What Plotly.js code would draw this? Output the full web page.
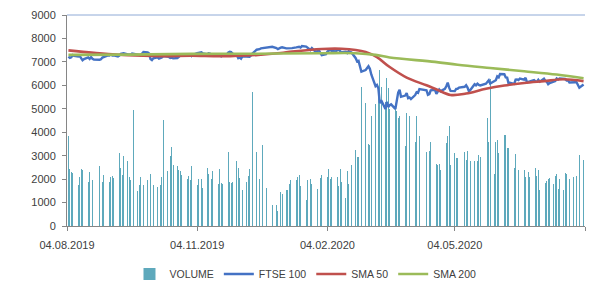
<!DOCTYPE html>
<html>
<head>
<meta charset="utf-8">
<script src="https://cdn.plot.ly/plotly-3.0.1.min.js"></script>
<style>
  html, body { margin: 0; padding: 0; background: #ffffff; }
  #chart { width: 599px; height: 284px; }
</style>
</head>
<body>
<div id="chart"></div>
<script>
// ---- Calendar: London trading days shown on the chart ----
const firstDay = "2019-08-05";
const lastDay = "2020-08-03";
const holidays = ["2019-08-26", "2019-12-25", "2019-12-26", "2020-01-01",
                  "2020-04-10", "2020-04-13", "2020-05-08", "2020-05-25"];

// ---- FTSE 100 close, one value per trading day (grouped by week) ----
const ftse = [
  7223, 7171, 7199, 7286, 7254,
  7226, 7251, 7147, 7067, 7117,
  7189, 7126, 7203, 7129, 7095,
  7090, 7115, 7184, 7207,
  7282, 7269, 7311, 7271, 7282,
  7236, 7268, 7339, 7345, 7367,
  7321, 7320, 7315, 7356, 7345,
  7326, 7291, 7290, 7351, 7426,
  7408, 7360, 7123, 7078, 7155,
  7198, 7143, 7167, 7187, 7247,
  7214, 7212, 7168, 7182, 7151,
  7164, 7212, 7260, 7328, 7324,
  7331, 7306, 7331, 7248, 7302,
  7369, 7388, 7397, 7406, 7359,
  7328, 7365, 7351, 7292, 7303,
  7307, 7323, 7262, 7239, 7327,
  7326, 7405, 7430, 7417, 7347,
  7286, 7158, 7188, 7138, 7240,
  7233, 7214, 7217, 7273, 7353,
  7519, 7525, 7541, 7574, 7582,
  7624, 7633, 7645,
  7587, 7542, 7604, 7623,
  7576, 7574, 7575, 7599, 7588,
  7617, 7622, 7643, 7610, 7675,
  7651, 7611, 7571, 7507, 7586,
  7412, 7481, 7484, 7381, 7286,
  7326, 7444, 7483, 7505, 7466,
  7446, 7499, 7534, 7452, 7409,
  7433, 7382, 7457, 7436, 7404,
  7157, 7018, 7042, 6796, 6581,
  6654, 6718, 6815, 6705, 6463,
  5965, 6018, 5876, 5237, 5366,
  4994, 5294, 5080, 5151, 5190,
  4994, 5446, 5688, 5816, 5510,
  5563, 5672, 5455, 5480, 5416,
  5582, 5704, 5678, 5843,
  5791, 5598, 5628, 5787,
  5812, 5641, 5770, 5826, 5752,
  5847, 5959, 6115, 5901, 5763,
  5753, 5849, 5853, 5904,
  5939, 6005, 5904, 5741, 5800,
  6048, 6002, 6067, 6015, 5993,
  6068, 6144, 6218, 6076,
  6166, 6220, 6382, 6341, 6484,
  6472, 6335, 6329, 6076, 6105,
  6064, 6242, 6253, 6224, 6292,
  6244, 6320, 6123, 6147, 6159,
  6225, 6170, 6157, 6240, 6157,
  6286, 6189, 6156, 6049, 6095,
  6176, 6180, 6293, 6250, 6290,
  6261, 6269, 6207, 6211, 6123,
  6104, 6129, 6131, 5990, 5897,
  6032
];

// ---- Volume, one value per trading day (grouped by week) ----
const volume = [
  3850, 2450, 2300, 2250, 2450,
  1760, 2090, 2430, 2400, 1970,
  1860, 2290, 1800, 1970, 1930,
  2540, 2000, 1880, 2180,
  1480, 1880, 2090, 2140, 2060,
  2400, 3120, 2470, 2180, 3000,
  2790, 2080, 1970, 1880, 4950,
  1480, 1760, 2090, 2140, 1760,
  1970, 2180, 2220, 1880, 1760,
  1650, 2090, 1750, 2100, 4520,
  2350, 3380, 3000, 3380, 2600,
  2560, 2400, 2330, 2180, 1710,
  2000, 2130, 1970, 2540, 1760,
  1740, 2000, 1760, 2000, 1620,
  2470, 2220, 2130, 2000, 2330,
  2290, 1800, 2430, 1830, 1800,
  1690, 3170, 1860, 1830, 1880,
  2760, 2470, 2050, 1970, 1550,
  1860, 2130, 2430, 2180, 5700,
  3140, 3290, 2000, 1970, 3470,
  1620, 560, 910,
  910, 620, 1430, 1350,
  1530, 1550, 1800, 1950, 1940,
  1970, 2090, 2180, 1720, 2000,
  1090, 1970, 1550, 2000, 1800,
  2030, 1570, 1970, 2050, 2160,
  1960, 2090, 2440, 2000, 2090,
  1760, 2090, 1710, 2440, 1880,
  1200, 2360, 1800, 2330, 2620,
  3250, 2950, 2950, 3680, 5930,
  5250, 3850, 3500, 3450, 4700,
  5200, 4600, 5500, 6650, 5950,
  5300, 6300, 5900, 5000, 7750,
  5200, 4900, 4600, 4680, 4000,
  3400, 4800, 4300, 4680, 3550,
  3600, 4680, 3300, 3850,
  3160, 4100, 3180, 3570,
  2480, 2660, 2600, 2660, 2400,
  2400, 3550, 3850, 4250, 2600,
  3120, 2900, 2900, 2880,
  3150, 2800, 3180, 3470, 2780,
  2780, 3000, 2780, 3040, 2940,
  3750, 4600, 3600, 6250,
  2230, 3570, 3680, 3120, 4180,
  3900, 3880, 3330, 3330, 3160,
  2480, 3080, 2570, 2400, 5040,
  2380, 2090, 2290, 2290, 2090,
  2150, 2480, 2150, 2400, 1520,
  2090, 1830, 1940, 2000, 2050,
  1800, 2150, 2230, 1580, 2000,
  1520, 2250, 2230, 1800, 2000,
  2090, 1860, 2150, 3680, 3040,
  2830
];

// ---- Moving averages, read at sample dates ----
const sma50Dates = ["2019-08-05", "2019-08-23", "2019-09-16", "2019-10-10", "2019-10-31",
                    "2019-11-22", "2019-12-17", "2020-01-02", "2020-01-10", "2020-01-31",
                    "2020-02-14", "2020-02-24", "2020-03-02", "2020-03-10", "2020-03-19",
                    "2020-03-31", "2020-04-14", "2020-04-22", "2020-05-01", "2020-05-12",
                    "2020-05-26", "2020-06-08", "2020-06-22", "2020-07-06", "2020-07-20",
                    "2020-08-03"];
const sma50 = [7490, 7390, 7280, 7245, 7260,
               7240, 7300, 7380, 7440, 7550,
               7560, 7510, 7420, 7200, 6780,
               6330, 6000, 5800, 5590, 5650,
               5850, 5990, 6100, 6180, 6260,
               6180];

const sma200Dates = ["2019-08-05", "2019-09-16", "2019-10-31", "2019-12-17", "2020-01-31",
                     "2020-02-24", "2020-03-09", "2020-03-19", "2020-04-20", "2020-05-06",
                     "2020-05-29", "2020-06-22", "2020-07-15", "2020-08-03"];
const sma200 = [7300, 7310, 7340, 7350, 7370,
                7370, 7300, 7190, 7000, 6880,
                6740, 6600, 6460, 6300];

// ---- Axis labels ----
const xTickVals = ["2019-08-04", "2019-11-04", "2020-02-04", "2020-05-04", "2020-08-04"];
const xTickText = ["04.08.2019", "04.11.2019", "04.02.2020", "04.05.2020", ""];
const seriesNames = ["VOLUME", "FTSE 100", "SMA 50", "SMA 200"];

function tradingDays(start, end, skip) {
  const out = [];
  const d = new Date(start + "T00:00:00Z");
  const e = new Date(end + "T00:00:00Z");
  while (d <= e) {
    const iso = d.toISOString().slice(0, 10);
    const wd = d.getUTCDay();
    if (wd !== 0 && wd !== 6 && skip.indexOf(iso) < 0) out.push(iso);
    d.setUTCDate(d.getUTCDate() + 1);
  }
  return out;
}
const days = tradingDays(firstDay, lastDay, holidays);
const n = Math.min(days.length, ftse.length, volume.length);
const dx = days.slice(0, n);

const txtColor = "#404040";
const axColor = "#868686";
const font = "Liberation Sans, Arial, sans-serif";

const traces = [
  {
    type: "bar", name: seriesNames[0], x: dx, y: volume.slice(0, n),
    width: 0.55 * 86400000,
    marker: { color: "#5ea9bc", line: { width: 0 } },
    yaxis: "y"
  },
  {
    type: "scatter", mode: "lines", name: seriesNames[1], x: dx, y: ftse.slice(0, n),
    line: { color: "#4472c4", width: 2.4 }
  },
  {
    type: "scatter", mode: "lines", name: seriesNames[2], x: sma50Dates, y: sma50,
    line: { color: "#c0504d", width: 2.6, shape: "spline", smoothing: 1 }
  },
  {
    type: "scatter", mode: "lines", name: seriesNames[3], x: sma200Dates, y: sma200,
    line: { color: "#9bbb59", width: 2.6, shape: "spline", smoothing: 1 }
  }
];

const layout = {
  width: 599, height: 284,
  margin: { l: 67, r: 14, t: 15, b: 58 },
  paper_bgcolor: "#ffffff", plot_bgcolor: "#ffffff",
  font: { family: font, size: 11, color: txtColor },
  showlegend: true,
  bargap: 0,
  legend: {
    orientation: "h", xref: "container", yref: "container",
    x: 0.51, xanchor: "center", y: 0.035, yanchor: "middle",
    font: { family: font, size: 10.5, color: txtColor },
    traceorder: "normal", itemwidth: 30
  },
  xaxis: {
    type: "date", range: ["2019-08-04", "2020-08-04"],
    tickmode: "array", tickvals: xTickVals, ticktext: xTickText,
    ticks: "outside", ticklen: 4, tickcolor: axColor, tickwidth: 1,
    showline: true, linecolor: axColor, linewidth: 1,
    showgrid: false, zeroline: false, ticklabelstandoff: 5,
    tickfont: { family: font, size: 11, color: txtColor }
  },
  yaxis: {
    range: [0, 9000], dtick: 1000, tick0: 0,
    ticks: "outside", ticklen: 4, tickcolor: axColor,
    showline: true, linecolor: axColor, linewidth: 1,
    showgrid: false, zeroline: false, ticklabelstandoff: 4,
    tickfont: { family: font, size: 11, color: txtColor }
  },
  yaxis2: {
    overlaying: "y", side: "right", range: [0, 6], dtick: 1, tick0: 0,
    ticks: "outside", ticklen: 4, tickcolor: axColor,
    showline: true, linecolor: axColor, linewidth: 1,
    showgrid: false, zeroline: false, showticklabels: false
  },
  shapes: [
    { type: "line", xref: "paper", yref: "paper", x0: 0, x1: 1, y0: 1, y1: 1,
      line: { color: "#8faad6", width: 1 } }
  ]
};

Plotly.newPlot("chart", traces, layout, { staticPlot: true, displayModeBar: false });
</script>
</body>
</html>
